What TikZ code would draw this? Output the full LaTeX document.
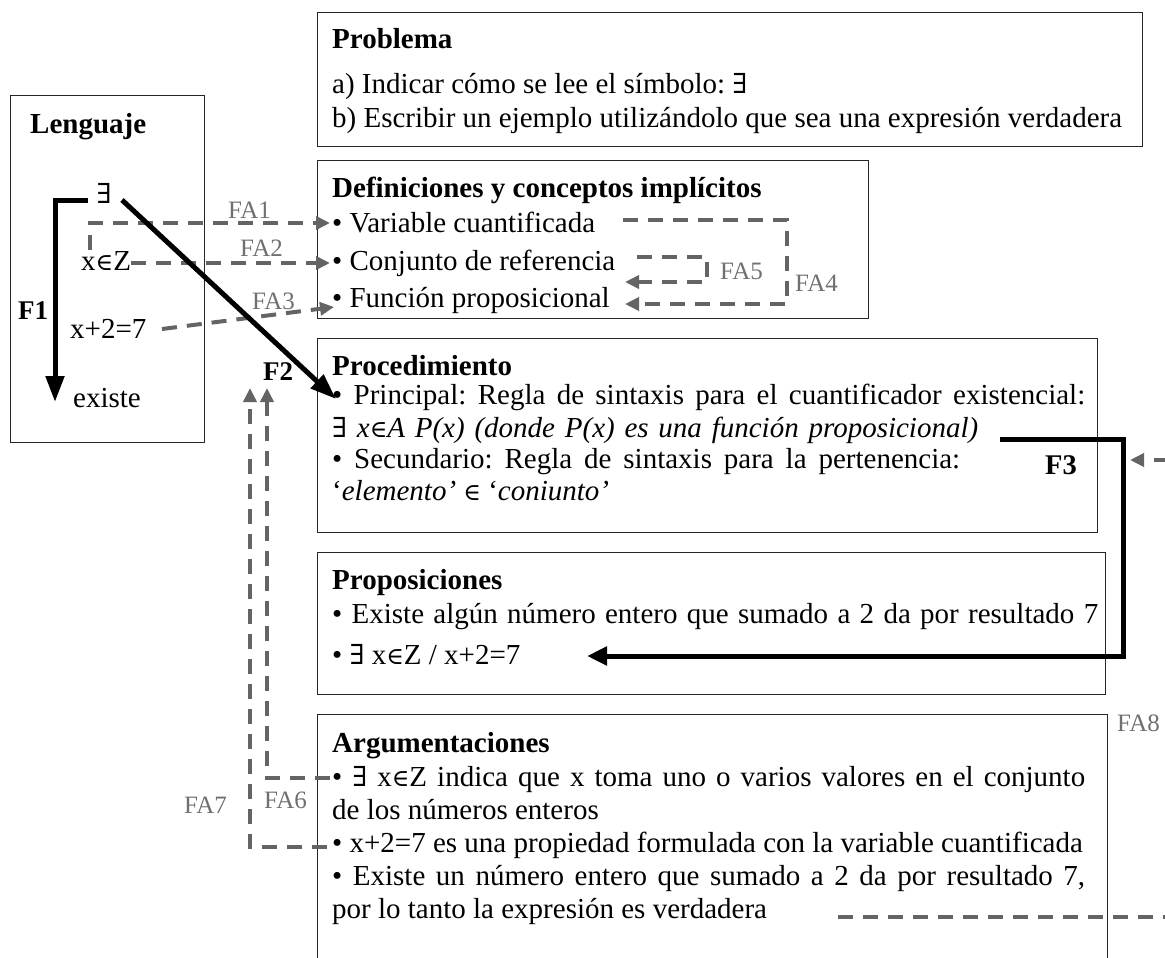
\documentclass[tikz,border=0pt]{standalone}
\usepackage{fontspec}
\setmainfont{Liberation Serif}
\newfontfamily\symfont{DejaVu Serif}[Scale=0.95]
\newfontfamily\symfontin{DejaVu Serif}[Scale=0.82]
\usetikzlibrary{arrows.meta}
\definecolor{fagray}{HTML}{646464}
\definecolor{lblgray}{HTML}{707070}
\frenchspacing
\newcommand\mainsz{\fontsize{29}{33}\selectfont}
\newcommand\lblsz{\fontsize{25}{27}\selectfont}
\newcommand\fsz{\fontsize{27}{29}\selectfont}
\newcommand\fbsz{\fontsize{28.5}{30}\selectfont}
\newcommand\symE{{\symfont\upshape\mdseries ∃}}
\newcommand\symIn{{\symfontin\upshape\mdseries ∈}}
\tikzset{
  box/.style={draw=black!85, line width=1.2pt, anchor=north west, inner sep=0pt},
  txt/.style={anchor=base west, inner sep=0pt, font=\mainsz},
  lbl/.style={anchor=base west, inner sep=0pt, font=\lblsz, text=lblgray},
  flbl/.style={anchor=base west, inner sep=0pt, font=\fsz\bfseries},
  faline/.style={draw=fagray, line width=4pt, dash pattern=on 15pt off 10pt},
  fa/.style={faline, -{Triangle[length=14pt,width=13pt]}},
  fbig/.style={draw=black, line width=5pt, line join=miter, -{Triangle[length=26pt,width=18pt]}},
}
\begin{document}
\begin{tikzpicture}[x=1pt,y=-1pt]
\clip (0,0) rectangle (1165,958);
\fill[white] (0,0) rectangle (1165,958);

% frames
\node[box, minimum width=825pt, minimum height=134pt] (probbox) at (317,12) {};
\node[box, minimum width=194pt, minimum height=347pt] (lengbox) at (10,95) {};
\node[box, minimum width=551pt, minimum height=158pt] (defbox) at (317,160) {};
\node[box, minimum width=780pt, minimum height=194pt] (procbox) at (317,338) {};
\node[box, minimum width=788pt, minimum height=142pt] (propbox) at (317,552) {};
\node[box, minimum width=790pt, minimum height=280pt] (argbox) at (317,714) {};

% Problema
\node[txt] (probh) at (332,49) {\textbf{Problema}};
\node[txt] (proba) at (332,94) {a) Indicar cómo se lee el símbolo: \symE};
\node[txt] (probb) at (332,128) {b) Escribir un ejemplo utilizándolo que sea una expresión verdadera};

% Lenguaje
\node[txt] (lengh) at (30,133) {\textbf{Lenguaje}};
\node[txt, anchor=base] (lex) at (104,203) {\symE};
\node[txt] (lxz) at (81,270) {x\symIn Z};
\node[txt] (lx2) at (70,338) {x+2=7};
\node[txt] (lexi) at (73,407) {existe};

% Definiciones y conceptos
\node[txt] (defh) at (332,197) {\textbf{Definiciones y conceptos implícitos}};
\node[txt] (defa) at (332,232) {• Variable cuantificada};
\node[txt] (defb) at (332,270) {• Conjunto de referencia};
\node[txt] (defc) at (332,307) {• Función proposicional};

% Procedimiento
\node[txt] (proch) at (332,375) {\textbf{Procedimiento}};
\node[txt] (proc1) at (332,404) {\makebox[753pt][s]{• Principal: Regla de sintaxis para el cuantificador existencial:}};
\node[txt] (proc2) at (332,437) {\makebox[646pt][s]{\symE{} \textit{x}\symIn\textit{A P(x) (donde P(x) es una función proposicional)}}};
\node[txt] (proc3) at (332,468) {\makebox[628pt][s]{• Secundario: Regla de sintaxis para la pertenencia:}};
\node[txt] (proc4) at (332,500) {‘\textit{elemento’} \symIn{} ‘\textit{coniunto’}};

% Proposiciones
\node[txt] (proph) at (332,589) {\textbf{Proposiciones}};
\node[txt] (prop1) at (332,623) {\makebox[766pt][s]{• Existe algún número entero que sumado a 2 da por resultado 7}};
\node[txt] (prop2) at (332,664) {• \symE{} x\symIn Z / x+2=7};

% Argumentaciones
\node[txt] (argh) at (332,752) {\textbf{Argumentaciones}};
\node[txt] (arg1) at (332,786) {\makebox[753pt][s]{• \symE{} x\symIn Z indica que x toma uno o varios valores en el conjunto}};
\node[txt] (arg2) at (332,819) {de los números enteros};
\node[txt] (arg3) at (332,852) {• x+2=7 es una propiedad formulada con la variable cuantificada};
\node[txt] (arg4) at (332,885) {\makebox[753pt][s]{• Existe un número entero que sumado a 2 da por resultado 7,}};
\node[txt] (arg5) at (332,918) {por lo tanto la expresión es verdadera};

% connector labels
\node[flbl] (f1l) at (18,319) {F1};
\node[flbl] (f2l) at (263,380) {F2};
\node[flbl, font=\fbsz\bfseries] (f3l) at (1045,474) {F3};
\node[lbl] (fa1l) at (228,218) {FA1};
\node[lbl] (fa2l) at (240,256) {FA2};
\node[lbl] (fa3l) at (252,309) {FA3};
\node[lbl] (fa4l) at (795,291) {FA4};
\node[lbl] (fa5l) at (720,279) {FA5};
\node[lbl] (fa6l) at (264,808) {FA6};
\node[lbl] (fa7l) at (184,813) {FA7};
\node[lbl] (fa8l) at (1117,731) {FA8};

% bend points and free ends
\coordinate (fa1s) at (90,250);
\coordinate (fa1t) at (330,223);
\coordinate (fa2t) at (330,263);
\coordinate (fa3s) at (162,329);
\coordinate (fa3t) at (334,307);
\coordinate (fa4s) at (623,220);
\coordinate (fa4r) at (787,220);
\coordinate (fa4t) at (625,304);
\coordinate (fa5s) at (637,257);
\coordinate (fa5r) at (707,257);
\coordinate (fa5t) at (625,282);
\coordinate (fa6s) at (330,778);
\coordinate (fa6t) at (267,388);
\coordinate (fa7s) at (327,847);
\coordinate (fa7t) at (250,388);
\coordinate (fa8s) at (838,917);
\coordinate (fa8r) at (1200,917);
\coordinate (fa8t) at (1130,460);
\coordinate (f1s) at (88,200);
\coordinate (f1c) at (55,200);
\coordinate (f1t) at (55,402);
\coordinate (f2s) at (122,200);
\coordinate (f2t) at (336,399);
\coordinate (f3s) at (1000,439);
\coordinate (f3r) at (1123,439);
\coordinate (f3t) at (587,656);

% dashed links
\draw[fa] (fa1s) |- (fa1t);
\draw[fa] (lxz.east |- fa2t) -- (fa2t);
\draw[fa] (fa3s) -- (fa3t);
\draw[fa] (fa4s) -- (fa4r) |- (fa4t);
\draw[fa] (fa5s) -- (fa5r) |- (fa5t);
\draw[fa] (fa6s) -| (fa6t);
\draw[fa] (fa7s) -| (fa7t);
\draw[fa] (fa8s) -- (fa8r) |- (fa8t);

% main links
\draw[fbig] (f1s) -- (f1c) -- (f1t);
\draw[fbig] (f2s) -- (f2t);
\draw[fbig, -{Triangle[length=20pt,width=18pt]}] (f3s) -- (f3r) |- (f3t);
\end{tikzpicture}
\end{document}
